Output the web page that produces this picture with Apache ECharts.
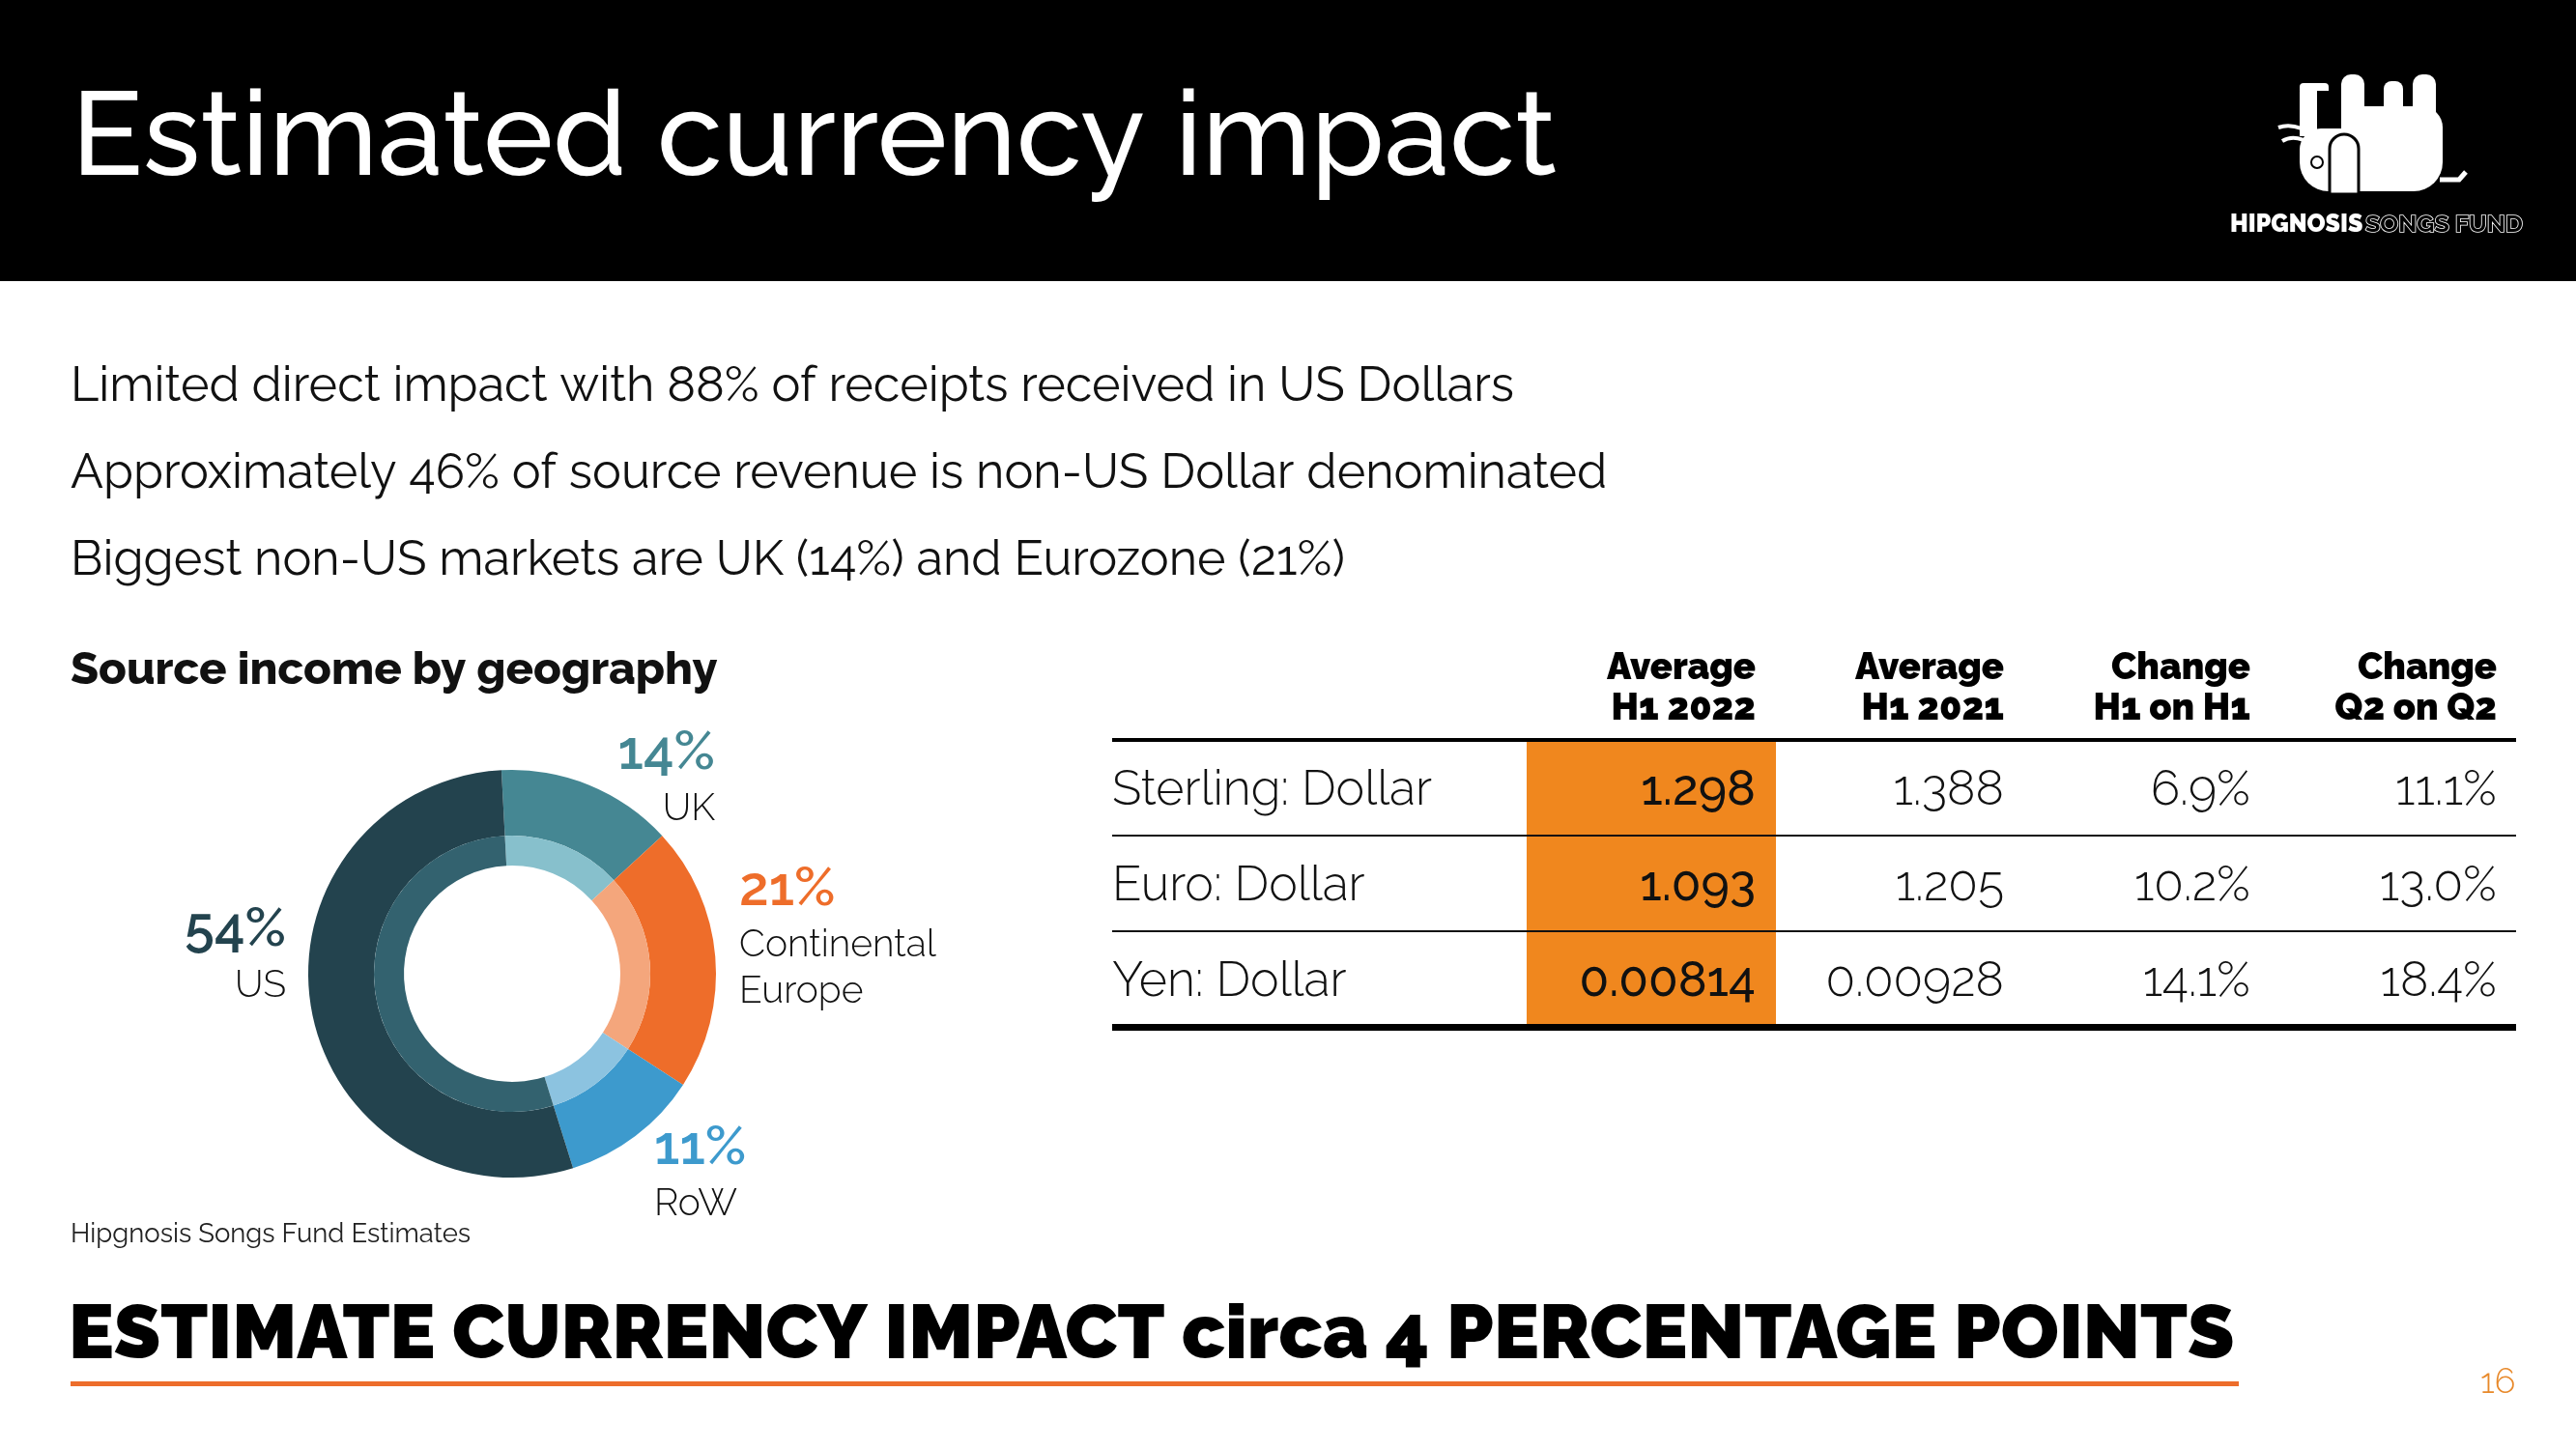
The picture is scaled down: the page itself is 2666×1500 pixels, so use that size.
<!DOCTYPE html>
<html><head><meta charset="utf-8">
<script src="https://cdn.jsdelivr.net/npm/echarts@6/dist/echarts.min.js"></script>
<style>html,body{margin:0;padding:0;background:#fff}#c{width:2666px;height:1500px}</style>
</head><body><div id="c"></div>
<script>
// ---- data ----
const geoNames = ['UK', 'Continental Europe', 'RoW', 'US'];
const geoValues = [14, 21, 11, 54];
const geoLabelText = ['UK', 'Continental\nEurope', 'RoW', 'US'];
const outerColors = ['#458793', '#ee6d2a', '#3d9acd', '#23434e'];
const innerColors = ['#87c0cc', '#f4a67c', '#8cc3e0', '#33626f'];

const tableHeaders = ['Average\nH1 2022', 'Average\nH1 2021', 'Change\nH1 on H1', 'Change\nQ2 on Q2'];
const pairs = ['Sterling: Dollar', 'Euro: Dollar', 'Yen: Dollar'];
const avgH1_2022 = ['1.298', '1.093', '0.00814'];
const avgH1_2021 = ['1.388', '1.205', '0.00928'];
const changeH1onH1 = ['6.9%', '10.2%', '14.1%'];
const changeQ2onQ2 = ['11.1%', '13.0%', '18.4%'];

const titleText = 'Estimated currency impact';
const bullets = [
  'Limited direct impact with 88% of receipts received in US Dollars',
  'Approximately 46% of source revenue is non-US Dollar denominated',
  'Biggest non-US markets are UK (14%) and Eurozone (21%)'
];
const chartTitle = 'Source income by geography';
const sourceNote = 'Hipgnosis Songs Fund Estimates';
const footerText = 'ESTIMATE CURRENCY IMPACT circa 4 PERCENTAGE POINTS';
const pageNum = '16';

// ---- layout ----
const FONT = 'Raleway, Lato, "Open Sans", sans-serif';
const chart = echarts.init(document.getElementById('c'), null, {renderer: 'canvas'});
const G = [];
function txt(t, x, y, size, weight, color, align, valign, extra) {
  const s = Object.assign({
    text: t, x: x, y: y, fontSize: size, fontWeight: weight, fontFamily: FONT, fill: color,
    textAlign: align || 'left', align: align || 'left',
    textVerticalAlign: valign || 'middle', verticalAlign: valign || 'middle'
  }, extra || {});
  return {type: 'text', silent: true, style: s};
}
// header band
G.push({type: 'rect', shape: {x: 0, y: 0, width: 2666, height: 291}, style: {fill: '#000'}, silent: true});
G.push(txt(titleText, 74, 144, 122, 500, '#fff', 'left', 'middle'));
// logo (simplified elephant)
const W = '#fff';
G.push({type: 'rect', shape: {x: 2423, y: 110, width: 105, height: 88, r: [0, 22, 30, 0]}, style: {fill: W}});
G.push({type: 'rect', shape: {x: 2380, y: 133, width: 60, height: 65, r: [22, 0, 0, 30]}, style: {fill: W}});
G.push({type: 'rect', shape: {x: 2423, y: 77, width: 24, height: 40, r: [10, 10, 0, 0]}, style: {fill: W}});
G.push({type: 'rect', shape: {x: 2467, y: 84, width: 20, height: 33, r: [8, 8, 0, 0]}, style: {fill: W}});
G.push({type: 'rect', shape: {x: 2497, y: 77, width: 24, height: 40, r: [10, 10, 0, 0]}, style: {fill: W}});
G.push({type: 'rect', shape: {x: 2380, y: 86, width: 18, height: 55, r: [9, 0, 0, 0]}, style: {fill: W}});
G.push({type: 'rect', shape: {x: 2380, y: 86, width: 30, height: 8, r: [4, 4, 0, 0]}, style: {fill: W}});
G.push({type: 'rect', shape: {x: 2411, y: 139, width: 30, height: 62, r: [15, 15, 0, 0]}, style: {fill: W, stroke: '#000', lineWidth: 3}});
G.push({type: 'circle', shape: {cx: 2398, cy: 168, r: 6}, style: {fill: W, stroke: '#000', lineWidth: 2}});
G.push({type: 'bezierCurve', shape: {x1: 2358, y1: 132, x2: 2396, y2: 141, cpx1: 2375, cpy1: 126}, style: {stroke: W, lineWidth: 4, fill: null}});
G.push({type: 'bezierCurve', shape: {x1: 2362, y1: 146, x2: 2394, y2: 150, cpx1: 2375, cpy1: 138}, style: {stroke: W, lineWidth: 4, fill: null}});
G.push({type: 'polyline', shape: {points: [[2525, 186], [2545, 186], [2552, 178]]}, style: {stroke: W, lineWidth: 5, fill: null}});
G.push(txt('HIPGNOSIS', 2308, 232, 25, 900, '#fff', 'left', 'middle'));
G.push(txt('SONGS FUND', 2448, 232, 25, 700, '#000', 'left', 'middle', {stroke: '#fff', lineWidth: 1.6}));

// bullets
bullets.forEach((b, i) => G.push(txt(b, 73, 400 + i * 90, 50.3, 400, '#111', 'left', 'middle')));
// donut title & note
G.push(txt(chartTitle, 73, 694, 47.3, 800, '#111', 'left', 'middle'));
G.push(txt(sourceNote, 73, 1278, 27.5, 400, '#222', 'left', 'middle'));

// donut labels
const labelPos = [
  {x: 740, y: 779, align: 'right'},
  {x: 765, y: 920, align: 'left'},
  {x: 677, y: 1188, align: 'left'},
  {x: 296, y: 962, align: 'right'}
];
geoNames.forEach((n, i) => {
  const p = labelPos[i];
  G.push(txt(geoValues[i] + '%', p.x, p.y, 56, 600, outerColors[i], p.align, 'middle'));
  G.push(txt(geoLabelText[i], p.x, p.y + 34, 39, 300, '#111', p.align, 'top', {lineHeight: 48}));
});

// table
const colRight = [1817, 2074, 2329, 2584];
const tLeft = 1151, tRight = 2604;
const rowY = [766, 865, 964, 1063];
G.push({type: 'rect', shape: {x: 1580, y: rowY[0], width: 258, height: rowY[3] - rowY[0]}, style: {fill: '#f0871e'}, silent: true});
G.push({type: 'rect', shape: {x: tLeft, y: rowY[0] - 2, width: tRight - tLeft, height: 4}, style: {fill: '#000'}, silent: true});
G.push({type: 'rect', shape: {x: tLeft, y: rowY[1] - 1, width: tRight - tLeft, height: 2}, style: {fill: '#111'}, silent: true});
G.push({type: 'rect', shape: {x: tLeft, y: rowY[2] - 1, width: tRight - tLeft, height: 2}, style: {fill: '#111'}, silent: true});
G.push({type: 'rect', shape: {x: tLeft, y: rowY[3] - 3, width: tRight - tLeft, height: 7}, style: {fill: '#000'}, silent: true});
tableHeaders.forEach((h, j) => G.push(txt(h, colRight[j], 713, 38, 900, '#000', 'right', 'middle', {lineHeight: 42})));
const cols = [avgH1_2022, avgH1_2021, changeH1onH1, changeQ2onQ2];
pairs.forEach((p, i) => {
  const cy = (rowY[i] + rowY[i + 1]) / 2 + 2;
  G.push(txt(p, tLeft, cy, 50, 300, '#111', 'left', 'middle'));
  cols.forEach((c, j) => G.push(txt(c[i], colRight[j], cy, 50, j === 0 ? 500 : 300, '#111', 'right', 'middle')));
});

// footer
G.push(txt(footerText, 71, 1382, 78.5, 900, '#000', 'left', 'middle'));
G.push({type: 'rect', shape: {x: 73, y: 1430, width: 2244, height: 5}, style: {fill: '#ed6d2b'}, silent: true});
G.push(txt(pageNum, 2567, 1431, 36, 300, '#e8892a', 'left', 'middle'));

const center = [530, 1008];
chart.setOption({
  animation: false,
  backgroundColor: '#fff',
  graphic: {elements: G},
  series: [
    {
      type: 'pie', center: center, radius: [143, 211], startAngle: 93, clockwise: true,
      label: {show: false}, labelLine: {show: false}, silent: true,
      data: geoNames.map((n, i) => ({name: n, value: geoValues[i], itemStyle: {color: outerColors[i]}}))
    },
    {
      type: 'pie', center: center, radius: [112, 143], startAngle: 93, clockwise: true,
      label: {show: false}, labelLine: {show: false}, silent: true,
      data: geoNames.map((n, i) => ({name: n, value: geoValues[i], itemStyle: {color: innerColors[i]}}))
    }
  ]
});
</script></body></html>
